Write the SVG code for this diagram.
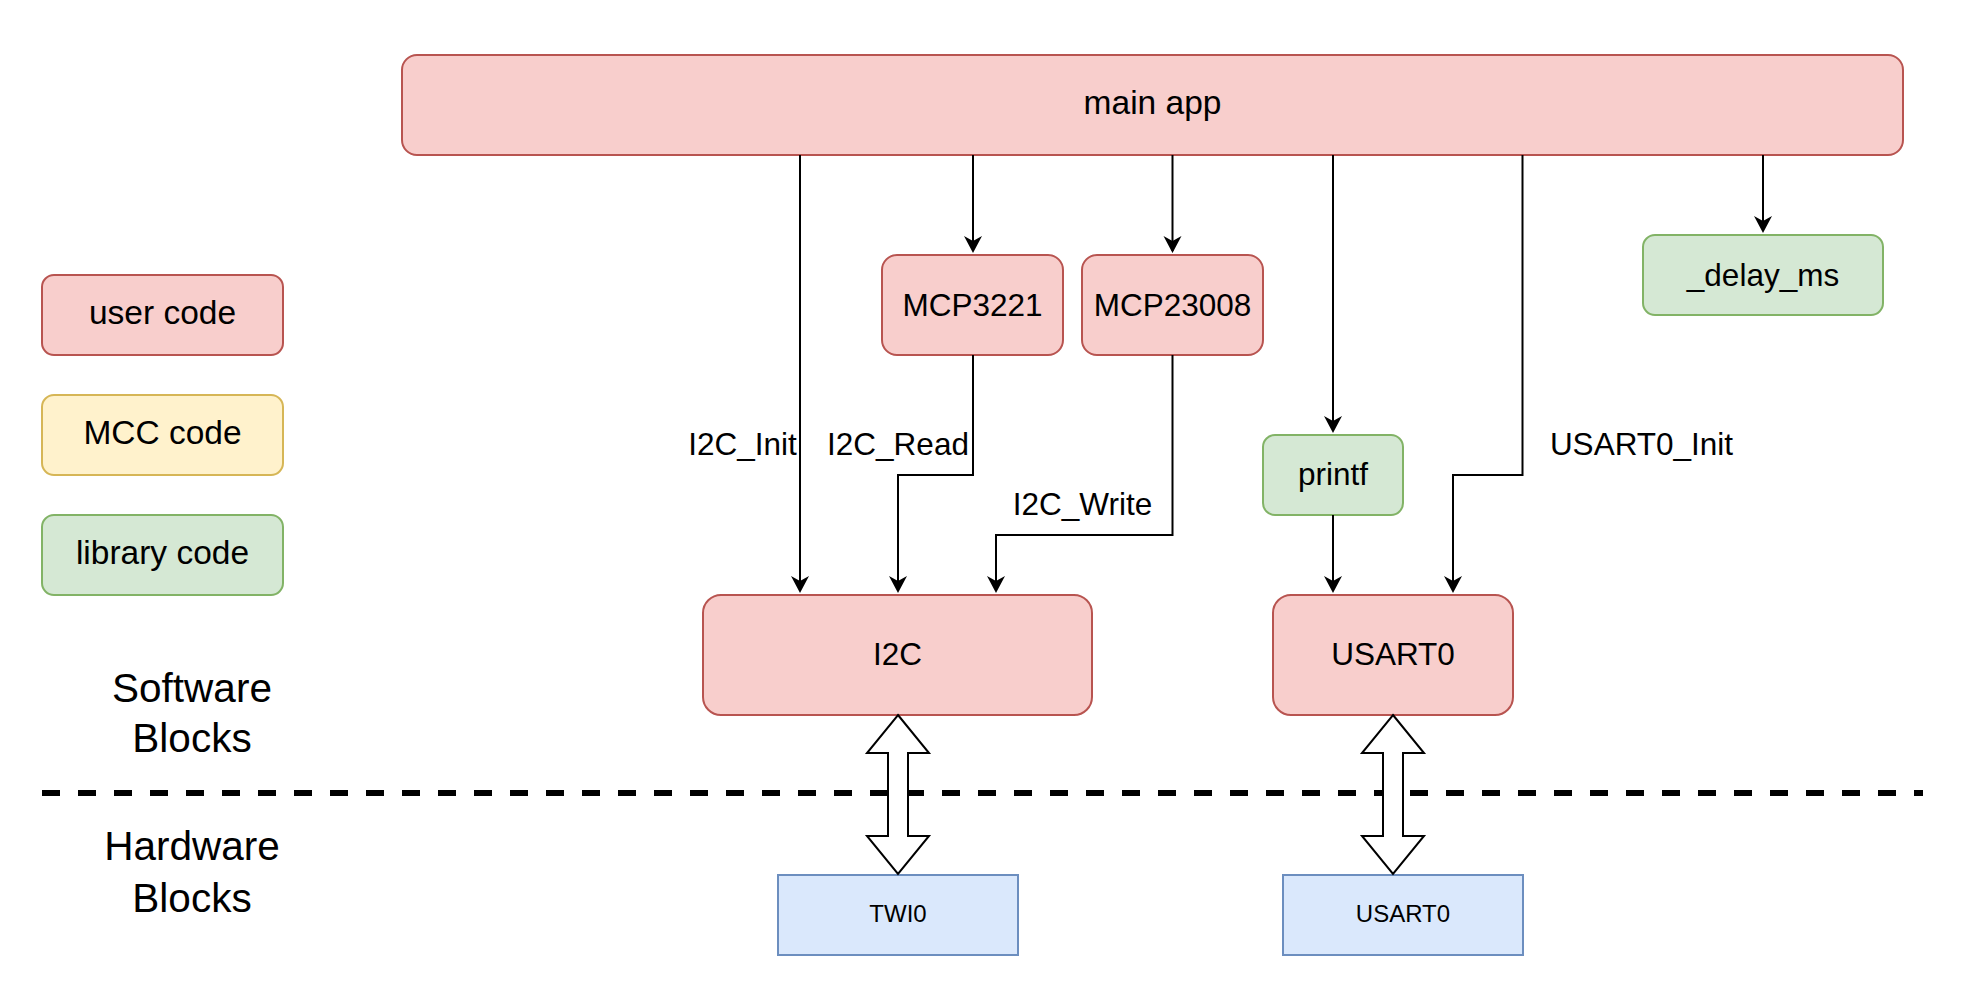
<svg xmlns="http://www.w3.org/2000/svg" width="1970" height="996" viewBox="0 0 1970 996">
<style>
text{font-family:"Liberation Sans",Arial,Helvetica,sans-serif;fill:#000;text-anchor:middle}
.red{fill:#f8cecc;stroke:#b85450;stroke-width:2}
.grn{fill:#d5e8d4;stroke:#82b366;stroke-width:2}
.yel{fill:#fff2cc;stroke:#d6b656;stroke-width:2}
.blu{fill:#dae8fc;stroke:#6c8ebf;stroke-width:2}
.lg{font-size:33.5px}
.md{font-size:31.5px}
.sm{font-size:24px}
.xl{font-size:40.5px}
.edge{fill:none;stroke:#000;stroke-width:2;marker-end:url(#arr)}
.flex{fill:#fff;stroke:#000;stroke-width:2;stroke-linejoin:miter}
</style>
<defs>
<marker id="arr" markerUnits="userSpaceOnUse" viewBox="0 0 20 20" markerWidth="20" markerHeight="20" refX="17" refY="10" orient="auto">
<path d="M2,1 L19,10 L2,19 L7,10 Z" fill="#000"/>
</marker>
</defs>
<rect width="1970" height="996" fill="#fff"/>

<g id="divider">
<path d="M42,793 H1923" stroke="#000" stroke-width="6" stroke-dasharray="18 18" fill="none"/>
</g>

<g id="main-app"><rect class="red" x="402" y="55" width="1501" height="100" rx="15"/><text class="lg" x="1152.5" y="114">main app</text></g>
<g id="mcp3221"><rect class="red" x="882" y="255" width="181" height="100" rx="15"/><text class="md" x="972.5" y="315.5">MCP3221</text></g>
<g id="mcp23008"><rect class="red" x="1082" y="255" width="181" height="100" rx="15"/><text class="md" x="1172.5" y="315.5">MCP23008</text></g>
<g id="delay-ms"><rect class="grn" x="1643" y="235" width="240" height="80" rx="12"/><text class="md" x="1763" y="286">_delay_ms</text></g>
<g id="printf"><rect class="grn" x="1263" y="435" width="140" height="80" rx="12"/><text class="md" x="1333" y="485">printf</text></g>
<g id="i2c"><rect class="red" x="703" y="595" width="389" height="120" rx="18"/><text class="md" x="897.5" y="665">I2C</text></g>
<g id="usart0-sw"><rect class="red" x="1273" y="595" width="240" height="120" rx="18"/><text class="md" x="1393" y="665">USART0</text></g>
<g id="twi0"><rect class="blu" x="778" y="875" width="240" height="80"/><text class="sm" x="898" y="922">TWI0</text></g>
<g id="usart0-hw"><rect class="blu" x="1283" y="875" width="240" height="80"/><text class="sm" x="1403" y="922">USART0</text></g>

<g id="legend-user"><rect class="red" x="42" y="275" width="241" height="80" rx="12"/><text class="lg" x="162.5" y="323.5">user code</text></g>
<g id="legend-mcc"><rect class="yel" x="42" y="395" width="241" height="80" rx="12"/><text class="lg" x="162.5" y="443.5">MCC code</text></g>
<g id="legend-lib"><rect class="grn" x="42" y="515" width="241" height="80" rx="12"/><text class="lg" x="162.5" y="563.5">library code</text></g>

<g id="software-label"><text class="xl" x="192" y="701.7">Software</text><text class="xl" x="192" y="751.7">Blocks</text></g>
<g id="hardware-label"><text class="xl" x="192" y="860">Hardware</text><text class="xl" x="192" y="911.7">Blocks</text></g>

<g id="connectors">
<path class="edge" d="M800,155 V591"/>
<path class="edge" d="M973,155 V251"/>
<path class="edge" d="M1172.5,155 V251"/>
<path class="edge" d="M1333,155 V431"/>
<path class="edge" d="M1763,155 V231"/>
<path class="edge" d="M973,355 V475 H898 V591"/>
<path class="edge" d="M1172.5,355 V535 H996 V591"/>
<path class="edge" d="M1333,515 V591"/>
<path class="edge" d="M1522.5,155 V475 H1453 V591"/>
<polygon class="flex" points="898,715 929,753 908,753 908,836 929,836 898,874 867,836 888,836 888,753 867,753"/>
<polygon class="flex" points="1393,715 1424,753 1403,753 1403,836 1424,836 1393,874 1362,836 1383,836 1383,753 1362,753"/>
<text class="md" x="742.5" y="455">I2C_Init</text>
<text class="md" x="898" y="455">I2C_Read</text>
<text class="md" x="1082.5" y="515">I2C_Write</text>
<text class="md" x="1641.5" y="455">USART0_Init</text>
</g>
</svg>
